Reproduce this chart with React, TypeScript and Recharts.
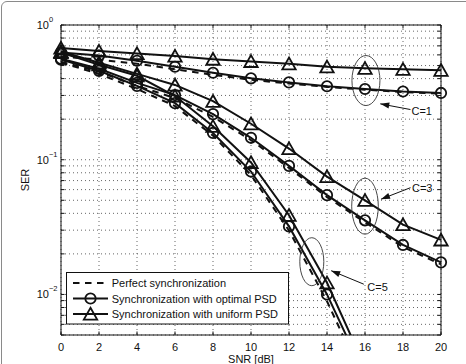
import {
  LineChart,
  Line,
  XAxis,
  YAxis,
  CartesianGrid,
  ReferenceLine,
  ReferenceDot,
  Legend,
} from "recharts";

// SNR grid (dB)
const snr = [0, 2, 4, 6, 8, 10, 12, 14, 16, 18, 20];

// C=1
const perfectC1 = [0.582, 0.553, 0.516, 0.469, 0.427, 0.392, 0.368, 0.347, 0.331, 0.318, 0.31];
const optimalC1 = [0.624, 0.593, 0.543, 0.49, 0.442, 0.402, 0.375, 0.351, 0.335, 0.321, 0.313];
const uniformC1 = [0.674, 0.64, 0.614, 0.588, 0.558, 0.537, 0.516, 0.489, 0.477, 0.469, 0.462];

// C=3
const perfectC3 = [0.534, 0.45, 0.353, 0.287, 0.208, 0.14, 0.087, 0.0528, 0.0343, 0.0225, 0.0167];
const optimalC3 = [0.562, 0.473, 0.372, 0.302, 0.218, 0.1455, 0.09, 0.0546, 0.0355, 0.0233, 0.0173];
const uniformC3 = [0.635, 0.525, 0.434, 0.359, 0.272, 0.185, 0.121, 0.075, 0.05, 0.033, 0.0254];

// C=5 (falls below the axis after 16 dB)
const perfectC5 = [0.525, 0.434, 0.335, 0.25, 0.151, 0.077, 0.0298, 0.0089, 0.0022];
const optimalC5 = [0.553, 0.457, 0.353, 0.263, 0.158, 0.0817, 0.032, 0.01, 0.0025];
const uniformC5 = [0.624, 0.507, 0.42, 0.297, 0.177, 0.0955, 0.0387, 0.0122, 0.0029];

// axes
const xTicks = [0, 2, 4, 6, 8, 10, 12, 14, 16, 18, 20];
const yMantissas = [1, 2, 3, 4, 5, 6, 7, 8, 9];
const yDecades = [0.001, 0.01, 0.1];
const yLabelTicks = [1, 0.1, 0.01];
const yLabelExps = ["0", "\u22121", "\u22122"];

// curve annotations (ellipse centre in data units)
const annLabels = ["C=1", "C=3", "C=5"];
const annX = [16.05, 16, 13.2];
const annY = [0.387, 0.0452, 0.0175];

const legendLabels = [
  "Perfect synchronization",
  "Synchronization with optimal PSD",
  "Synchronization with uniform PSD",
];

const W = 466;
const H = 364;
const MARGIN = { top: 25, right: 25, bottom: 0, left: 1 };
const Y_AXIS_W = 60;
const X_AXIS_H = 29;
const PLOT_W = W - MARGIN.left - MARGIN.right - Y_AXIS_W;
const PLOT_H = H - MARGIN.top - MARGIN.bottom - X_AXIS_H;
const FONT = "'Liberation Sans', Arial, Helvetica, sans-serif";
const INK = "#111";
const LINE_W = 2;
const MARK_W = 1.8;

const yTicks = yDecades
  .flatMap((d) => yMantissas.map((m) => Number((m * d).toPrecision(3))))
  .filter((v) => v >= 0.005)
  .concat([1]);

const data = snr.map((s, i) => ({
  snr: s,
  pC1: perfectC1[i],
  oC1: optimalC1[i],
  uC1: uniformC1[i],
  pC3: perfectC3[i],
  oC3: optimalC3[i],
  uC3: uniformC3[i],
  pC5: perfectC5[i],
  oC5: optimalC5[i],
  uC5: uniformC5[i],
}));

// annotation geometry, offsets from the ellipse centre
const annShapes = [
  { rx: 14, ry: 25, tip: [14.3, 23.3], tail: [44.5, 29], text: [45.5, 30] },
  { rx: 13.3, ry: 28, tip: [16, -7], tail: [45.5, -18.5], text: [47, -18.5] },
  { rx: 12, ry: 24, tip: [19.4, 9], tail: [52, 22.5], text: [55.5, 25.5] },
];

const TICK = 3.5;

const triPath = (cx: number, cy: number) =>
  `M${cx},${cy - 6.2} L${cx + 6.7},${cy + 5.6} L${cx - 6.7},${cy + 5.6} Z`;

const CircleDot = (props: any) => {
  const { cx, cy, index } = props;
  if (cx == null || cy == null || Number.isNaN(cy)) return <g key={index} />;
  return (
    <circle key={index} cx={cx} cy={cy} r={5.2} fill="none" stroke={INK} strokeWidth={MARK_W} />
  );
};

const TriangleDot = (props: any) => {
  const { cx, cy, index } = props;
  if (cx == null || cy == null || Number.isNaN(cy)) return <g key={index} />;
  return (
    <path key={index} d={triPath(cx, cy)} fill="none" stroke={INK} strokeWidth={MARK_W} />
  );
};

// left axis tick: inward ticks on both sides of the box, 10^k labels on decades
const YTick = (props: any) => {
  const { x, y, payload } = props;
  const li = yLabelTicks.findIndex((v) => Math.abs(v - payload.value) < 1e-9);
  return (
    <g>
      <line x1={x} x2={x + TICK} y1={y} y2={y} stroke={INK} />
      <line x1={x + PLOT_W - TICK} x2={x + PLOT_W} y1={y} y2={y} stroke={INK} />
      {li >= 0 && (
        <text x={x - 24.3} y={y + 4} fontFamily={FONT} fontSize={11} fill={INK}>
          10
          <tspan dy={-7} fontSize={7.5}>
            {yLabelExps[li]}
          </tspan>
        </text>
      )}
    </g>
  );
};

const XTick = (props: any) => {
  const { x, y, payload } = props;
  return (
    <g>
      <line x1={x} x2={x} y1={y} y2={y - TICK} stroke={INK} />
      <line x1={x} x2={x} y1={y - PLOT_H} y2={y - PLOT_H + TICK} stroke={INK} />
      <text x={x} y={y + 16} textAnchor="middle" fontFamily={FONT} fontSize={11} fill={INK}>
        {payload.value}
      </text>
    </g>
  );
};

const arrowHead = (x1: number, y1: number, x2: number, y2: number) => {
  const a = Math.atan2(y2 - y1, x2 - x1);
  const len = 9;
  const hw = 3;
  const bx = x2 - len * Math.cos(a);
  const by = y2 - len * Math.sin(a);
  const px = -Math.sin(a) * hw;
  const py = Math.cos(a) * hw;
  return `${x2},${y2} ${bx + px},${by + py} ${bx - px},${by - py}`;
};

const Annotation = (props: any) => {
  const { cx, cy, idx } = props;
  const s = annShapes[idx];
  const tipX = cx + s.tip[0];
  const tipY = cy + s.tip[1];
  const tailX = cx + s.tail[0];
  const tailY = cy + s.tail[1];
  return (
    <g>
      <ellipse cx={cx} cy={cy} rx={s.rx} ry={s.ry} fill="none" stroke="#333" strokeWidth={0.9} />
      <line x1={tailX} y1={tailY} x2={tipX} y2={tipY} stroke={INK} strokeWidth={1} />
      <polygon points={arrowHead(tailX, tailY, tipX, tipY)} fill={INK} />
      <text
        x={cx + s.text[0]}
        y={cy + s.text[1]}
        dominantBaseline="central"
        fontFamily={FONT}
        fontSize={11}
        fill={INK}
      >
        {annLabels[idx]}
      </text>
    </g>
  );
};

const LegendBox = () => {
  const rows = [11, 26.5, 42];
  return (
    <svg width={224} height={54} style={{ display: "block" }}>
      <rect x={0.5} y={0.5} width={222} height={51.5} fill="#fff" stroke={INK} />
      {legendLabels.map((label, i) => (
        <g key={label}>
          <line
            x1={7}
            x2={42}
            y1={rows[i]}
            y2={rows[i]}
            stroke={INK}
            strokeWidth={LINE_W}
            strokeDasharray={i === 0 ? "6.5 5.5" : undefined}
          />
          {i === 1 && (
            <circle cx={24.5} cy={rows[i]} r={5.2} fill="none" stroke={INK} strokeWidth={MARK_W} />
          )}
          {i === 2 && (
            <path d={triPath(24.5, rows[i])} fill="none" stroke={INK} strokeWidth={MARK_W} />
          )}
          <text
            x={45.7}
            y={rows[i]}
            dominantBaseline="central"
            fontFamily={FONT}
            fontSize={11}
            fill={INK}
          >
            {label}
          </text>
        </g>
      ))}
    </svg>
  );
};

const lineKeys = [
  { key: "pC1", kind: "p" },
  { key: "pC3", kind: "p" },
  { key: "pC5", kind: "p" },
  { key: "oC1", kind: "o" },
  { key: "oC3", kind: "o" },
  { key: "oC5", kind: "o" },
  { key: "uC1", kind: "u" },
  { key: "uC3", kind: "u" },
  { key: "uC5", kind: "u" },
];

export default function App() {
  return (
    <div
      style={{
        position: "absolute",
        left: 0,
        top: 0,
        width: W,
        height: H,
        overflow: "hidden",
        background: "#fff",
      }}
    >
      {/* rounded figure frame */}
      <div
        style={{
          position: "absolute",
          left: 1,
          top: 1,
          width: W + 40,
          height: H + 40,
          border: "1px solid #8a8a8a",
          borderRadius: 6,
        }}
      />
      <LineChart width={W} height={H} data={data} margin={MARGIN}>
        <CartesianGrid stroke="#555" strokeDasharray="1 3" strokeWidth={0.9} />
        <XAxis
          dataKey="snr"
          type="number"
          domain={[0, 20]}
          ticks={xTicks}
          interval={0}
          height={X_AXIS_H}
          tickSize={0}
          tickMargin={0}
          tickLine={false}
          axisLine={{ stroke: INK }}
          tick={<XTick />}
          label={{
            content: (p: any) => {
              const vb = p.viewBox || { x: MARGIN.left + Y_AXIS_W, y: MARGIN.top + PLOT_H, width: PLOT_W };
              return (
                <text
                  x={vb.x + vb.width / 2}
                  y={vb.y + 27.5}
                  textAnchor="middle"
                  fontFamily={FONT}
                  fontSize={11}
                  fill={INK}
                >
                  SNR [dB]
                </text>
              );
            },
          }}
        />
        <YAxis
          type="number"
          scale="log"
          domain={[0.005, 1]}
          allowDataOverflow
          ticks={yTicks}
          interval={0}
          width={Y_AXIS_W}
          tickSize={0}
          tickMargin={0}
          tickLine={false}
          axisLine={{ stroke: INK }}
          tick={<YTick />}
          label={{
            content: (p: any) => {
              const vb = p.viewBox || { x: MARGIN.left, y: MARGIN.top, height: PLOT_H };
              const cx = vb.x + 24;
              const cy = vb.y + vb.height / 2;
              return (
                <text
                  x={cx}
                  y={cy}
                  transform={`rotate(-90 ${cx} ${cy})`}
                  textAnchor="middle"
                  dominantBaseline="central"
                  fontFamily={FONT}
                  fontSize={11}
                  fill={INK}
                >
                  SER
                </text>
              );
            },
          }}
        />
        <ReferenceLine x={20} stroke={INK} ifOverflow="visible" />
        <ReferenceLine y={1} stroke={INK} ifOverflow="visible" />

        {lineKeys.map(({ key, kind }) => (
          <Line
            key={key}
            dataKey={key}
            type="linear"
            stroke={INK}
            strokeWidth={LINE_W}
            strokeDasharray={kind === "p" ? "6.5 5.5" : undefined}
            dot={kind === "o" ? CircleDot : kind === "u" ? TriangleDot : false}
            activeDot={false}
            connectNulls={false}
            isAnimationActive={false}
          />
        ))}

        {annLabels.map((label, i) => (
          <ReferenceDot
            key={label}
            x={annX[i]}
            y={annY[i]}
            r={0}
            ifOverflow="visible"
            shape={(p: any) => <Annotation {...p} idx={i} />}
          />
        ))}

        <Legend
          layout="horizontal"
          verticalAlign="middle"
          align="center"
          content={() => <LegendBox />}
          wrapperStyle={{ position: "absolute", left: 66, top: 272, width: 224, height: 54 }}
        />
      </LineChart>
    </div>
  );
}
